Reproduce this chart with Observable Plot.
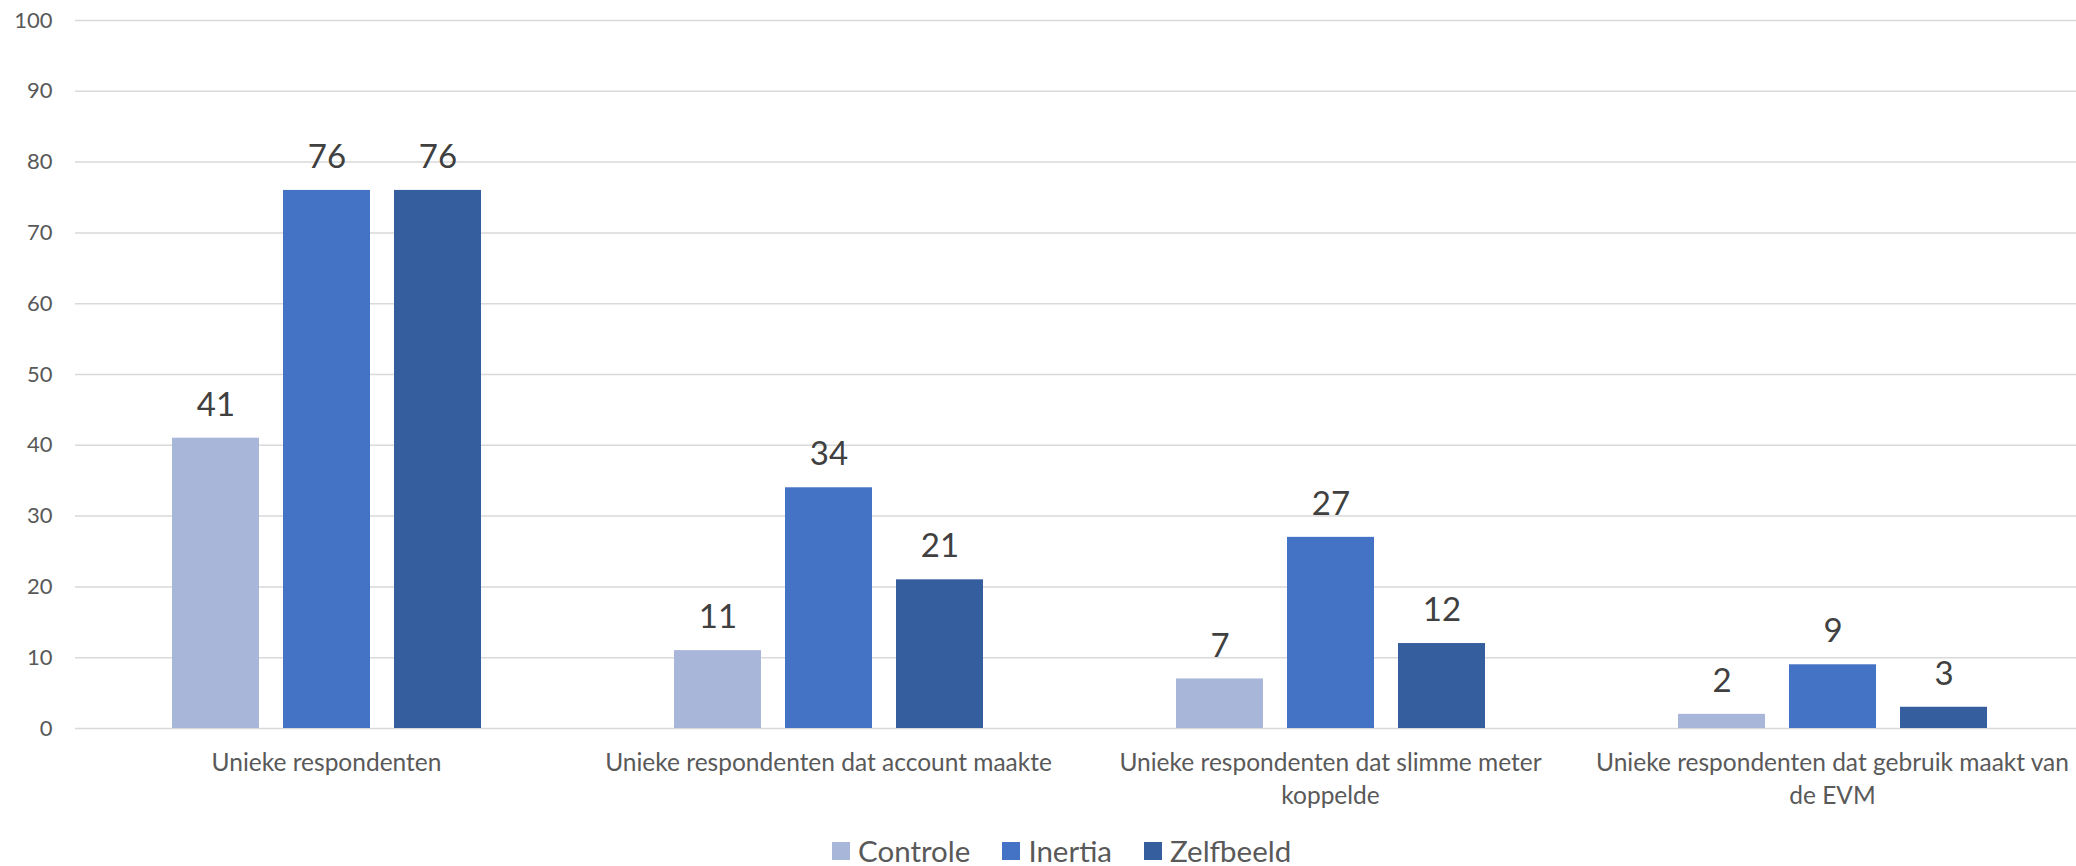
<!DOCTYPE html>
<html>
<head>
<meta charset="utf-8">
<script src="https://cdn.jsdelivr.net/npm/d3@7"></script>
<script src="https://cdn.jsdelivr.net/npm/@observablehq/plot@0.6"></script>
<style>
  html, body { margin: 0; padding: 0; background: #ffffff; }
  body { width: 2076px; height: 866px; overflow: hidden; font-family: Lato, "Open Sans", sans-serif; }
  #chart { width: 2076px; height: 825px; overflow: hidden; }
  #chart svg { display: block; max-width: none !important; width: 2084px; height: 825px; }
  #legend { display: flex; align-items: center; box-sizing: border-box; height: 41px; padding-top: 11px;
            margin-left: 832px; color: #595959; font-size: 29.5px; line-height: 1; }
  #legend .item { display: flex; align-items: center; margin-right: 32px; }
  #legend .swatch { width: 18px; height: 18px; margin-right: 8px; }
</style>
</head>
<body>
<div id="chart"></div>
<div id="legend"></div>
<script>
// Categories (x groups) and their wrapped tick labels
const categories = [
  "Unieke respondenten",
  "Unieke respondenten dat account maakte",
  "Unieke respondenten dat slimme meter koppelde",
  "Unieke respondenten dat gebruik maakt van de EVM"
];
const categoryLabels = [
  "Unieke respondenten",
  "Unieke respondenten dat account maakte",
  "Unieke respondenten dat slimme meter\nkoppelde",
  "Unieke respondenten dat gebruik maakt van\nde EVM"
];

// Series
const seriesNames = ["Controle", "Inertia", "Zelfbeeld"];
const seriesColors = ["#A8B6DA", "#4472C4", "#355E9F"];

const controle = [41, 11, 7, 2];
const inertia = [76, 34, 27, 9];
const zelfbeeld = [76, 21, 12, 3];

const yTicks = [0, 10, 20, 30, 40, 50, 60, 70, 80, 90, 100];

// Long table for Plot
const seriesValues = [controle, inertia, zelfbeeld];
const rows = [];
categories.forEach((cat, i) => {
  seriesNames.forEach((s, j) => {
    rows.push({category: cat, series: s, value: seriesValues[j][i]});
  });
});

const labelOf = new Map(categories.map((c, i) => [c, categoryLabels[i]]));

// The plot area runs slightly past the right edge of the page; the overflow is clipped.
const chart = Plot.plot({
  width: 2084,
  height: 825,
  marginLeft: 73,
  marginRight: 0,
  marginTop: 20,
  marginBottom: 97,
  style: {fontFamily: "Lato, 'Open Sans', sans-serif", background: "#ffffff"},
  fx: {domain: categories, padding: 0, label: null},
  x: {domain: seriesNames, paddingInner: 0.22, paddingOuter: 0.855, axis: null},
  y: {domain: [0, 100], label: null},
  color: {domain: seriesNames, range: seriesColors},
  marks: [
    Plot.gridY(yTicks, {stroke: "#D9D9D9", strokeOpacity: 1, strokeWidth: 1.5}),
    Plot.axisY(yTicks, {
      tickSize: 0, tickPadding: 23, fontSize: 22, fill: "#595959", label: null
    }),
    Plot.axisFx({
      anchor: "bottom", tickSize: 0, tickPadding: 19, fontSize: 24.5,
      lineHeight: 1.35, fill: "#595959", label: null,
      tickFormat: d => labelOf.get(d)
    }),
    Plot.barY(rows, {fx: "category", x: "series", y: "value", fill: "series"}),
    Plot.text(rows, {
      fx: "category", x: "series", y: "value", text: d => String(d.value),
      dy: -33, fontSize: 33, fill: "#404040"
    })
  ]
});
document.getElementById("chart").appendChild(chart);

// Legend below the chart
const legend = document.getElementById("legend");
seriesNames.forEach((s, i) => {
  const item = document.createElement("div");
  item.className = "item";
  const sw = document.createElement("div");
  sw.className = "swatch";
  sw.style.background = seriesColors[i];
  const label = document.createElement("span");
  label.textContent = s;
  item.appendChild(sw);
  item.appendChild(label);
  legend.appendChild(item);
});
</script>
</body>
</html>
